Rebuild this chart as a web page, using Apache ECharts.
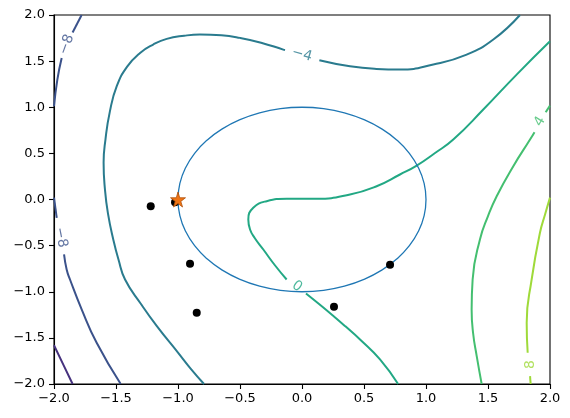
<!DOCTYPE html>
<html>
<head>
<meta charset="utf-8">
<script src="https://cdn.jsdelivr.net/npm/echarts@6/dist/echarts.min.js"></script>
<style>
  html, body { margin: 0; padding: 0; background: #fff; }
  #chart { width: 570px; height: 418px; }
</style>
</head>
<body>
<div id="chart"></div>
<script>
// contour pieces, [x, y]; gaps are where matplotlib put the inline labels
const levelM12 = [[-2.0, -1.58], [-1.925, -1.79], [-1.85, -2.0]];

const levelM8TopA = [[-2.0, 1.011], [-1.973, 1.30], [-1.938, 1.535]];
const levelM8TopB = [[-1.85, 1.81], [-1.777, 2.0]];
const levelM8LowA = [[-2.0, 0.02], [-1.978, -0.198]];
const levelM8LowB = [[-1.919, -0.596], [-1.898, -0.758], [-1.871, -0.867], [-1.777, -1.19],
  [-1.656, -1.553], [-1.462, -2.0]];

const levelM4A = [[-0.79, -2.0], [-0.9, -1.83], [-1.0, -1.66], [-1.172, -1.37], [-1.30, -1.13],
  [-1.427, -0.867], [-1.48, -0.65], [-1.522, -0.433], [-1.565, -0.15], [-1.589, 0.108],
  [-1.60, 0.4], [-1.585, 0.65], [-1.55, 0.95], [-1.494, 1.228], [-1.41, 1.44], [-1.306, 1.589],
  [-1.2, 1.68], [-1.091, 1.741], [-0.95, 1.775], [-0.823, 1.788], [-0.65, 1.78], [-0.5, 1.752],
  [-0.33, 1.70], [-0.151, 1.625], [-0.137, 1.62]];
const levelM4B = [[0.14, 1.51], [0.387, 1.444], [0.6, 1.415], [0.79, 1.408], [1.059, 1.463],
  [1.328, 1.571], [1.543, 1.734], [1.758, 2.0]];

const level0A = [[0.775, -2.0], [0.629, -1.733], [0.468, -1.517], [0.35, -1.375], [0.253, -1.262],
  [0.14, -1.135], [0.032, -1.018]];
const level0B = [[-0.124, -0.867], [-0.22, -0.71], [-0.312, -0.542], [-0.38, -0.42], [-0.419, -0.325],
  [-0.433, -0.217], [-0.393, -0.09], [-0.285, -0.018], [-0.124, 0.008], [0.118, 0.008],
  [0.387, 0.054], [0.602, 0.144], [0.79, 0.271], [0.925, 0.368], [1.073, 0.504], [1.22, 0.65],
  [1.462, 0.975], [1.731, 1.354], [2.0, 1.715]];

const level4A = [[1.449, -2.0], [1.409, -1.697], [1.38, -1.45], [1.368, -1.192], [1.376, -0.867],
  [1.435, -0.433], [1.5, -0.18], [1.57, 0.036], [1.704, 0.361], [1.839, 0.65], [1.875, 0.73]];
const level4B = [[1.965, 0.945], [2.0, 1.018]];

const level8A = [[2.0, 0.02], [1.96, -0.163], [1.919, -0.361], [1.852, -0.867], [1.812, -1.336],
  [1.82, -1.661]];
const level8B = [[1.839, -1.914], [1.844, -2.0]];

// unit circle (constraint)
const circlePts = [[1, 0], [0.985, 0.174], [0.94, 0.342], [0.866, 0.5], [0.766, 0.643], [0.643, 0.766],
  [0.5, 0.866], [0.342, 0.94], [0.174, 0.985], [0, 1], [-0.174, 0.985], [-0.342, 0.94],
  [-0.5, 0.866], [-0.643, 0.766], [-0.766, 0.643], [-0.866, 0.5], [-0.94, 0.342], [-0.985, 0.174],
  [-1, 0], [-0.985, -0.174], [-0.94, -0.342], [-0.866, -0.5], [-0.766, -0.643], [-0.643, -0.766],
  [-0.5, -0.866], [-0.342, -0.94], [-0.174, -0.985], [0, -1], [0.174, -0.985], [0.342, -0.94],
  [0.5, -0.866], [0.643, -0.766], [0.766, -0.643], [0.866, -0.5], [0.94, -0.342], [0.985, -0.174],
  [1, 0]];

const samplePts = [[-1.22, -0.072], [-1.024, -0.029], [-0.903, -0.697], [-0.849, -1.228],
  [0.258, -1.163], [0.71, -0.708]];
const bestPt = [[-1.0, 0.0]];

const labelPos = [[-1.898, 1.679], [-1.945, -0.41], [0.0, 1.571], [-0.04, -0.943], [1.919, 0.845], [1.839, -1.79]];
const labelText = ['\u22128', '\u22128', '\u22124', '0', '4', '8'];
const labelAngle = [70, -79, -16, -36, 59, 90];

const cM12 = '#46327e', cM8 = '#3b528b', cM4 = '#2a7b8e', c0 = '#22a884', c4 = '#44bf70', c8 = '#9fda3a';
const labelColor = [cM8, cM8, cM4, c0, c4, c8];
const font = 'DejaVu Sans';

function fmt(v) {
  return (v < 0 ? '\u2212' : '') + Math.abs(v).toFixed(1);
}

function contour(data, color, width) {
  return {
    type: 'line', data: data, showSymbol: false, symbol: 'none', smooth: 0.5,
    lineStyle: { color: color, width: width || 2 }, silent: true, z: 2
  };
}

const chart = echarts.init(document.getElementById('chart'));

const axisCommon = {
  type: 'value', min: -2, max: 2, interval: 0.5,
  splitLine: { show: false },
  axisLine: { show: true, onZero: false, lineStyle: { color: '#000', width: 1.1 } },
  axisTick: { show: true, length: 5, lineStyle: { color: '#000', width: 1.1 } },
  axisLabel: { color: '#000', fontSize: 13, fontFamily: font, formatter: fmt }
};

chart.setOption({
  animation: false,
  backgroundColor: '#fff',
  grid: { left: 54, right: 20, top: 15, bottom: 34, show: true, borderColor: '#000', borderWidth: 1.1 },
  xAxis: Object.assign({}, axisCommon, { axisLabel: Object.assign({}, axisCommon.axisLabel, { margin: 8 }) }),
  yAxis: Object.assign({}, axisCommon, { axisLabel: Object.assign({}, axisCommon.axisLabel, { margin: 9 }) }),
  series: [
    contour(levelM12, cM12),
    contour(levelM8TopA, cM8), contour(levelM8TopB, cM8),
    contour(levelM8LowA, cM8), contour(levelM8LowB, cM8),
    contour(levelM4A, cM4), contour(levelM4B, cM4),
    contour(level0A, c0), contour(level0B, c0),
    contour(level4A, c4), contour(level4B, c4),
    contour(level8A, c8), contour(level8B, c8),
    {
      type: 'line', data: circlePts, showSymbol: false, symbol: 'none', smooth: 0.5,
      lineStyle: { color: '#1f77b4', width: 1.3 }, z: 3
    },
    {
      type: 'scatter', z: 4, symbol: 'circle', symbolSize: 1,
      itemStyle: { color: 'rgba(0,0,0,0)' },
      data: labelPos.map((p, i) => ({
        value: p, name: labelText[i],
        label: { rotate: labelAngle[i], color: labelColor[i] }
      })),
      label: {
        show: true, position: 'inside', fontSize: 14, fontFamily: font,
        formatter: (p) => p.name
      }
    },
    {
      type: 'scatter', z: 5, data: samplePts, symbol: 'circle', symbolSize: 8,
      itemStyle: { color: '#000', opacity: 1 }
    },
    {
      type: 'scatter', z: 6, data: bestPt, symbolSize: 15,
      symbol: 'path://M50,0 L61,35 L98,35 L68,57 L79,91 L50,70 L21,91 L32,57 L2,35 L39,35 Z',
      itemStyle: { color: '#ef7414', borderColor: '#b0520c', borderWidth: 0.8, opacity: 1 }
    }
  ]
});
</script>
</body>
</html>
